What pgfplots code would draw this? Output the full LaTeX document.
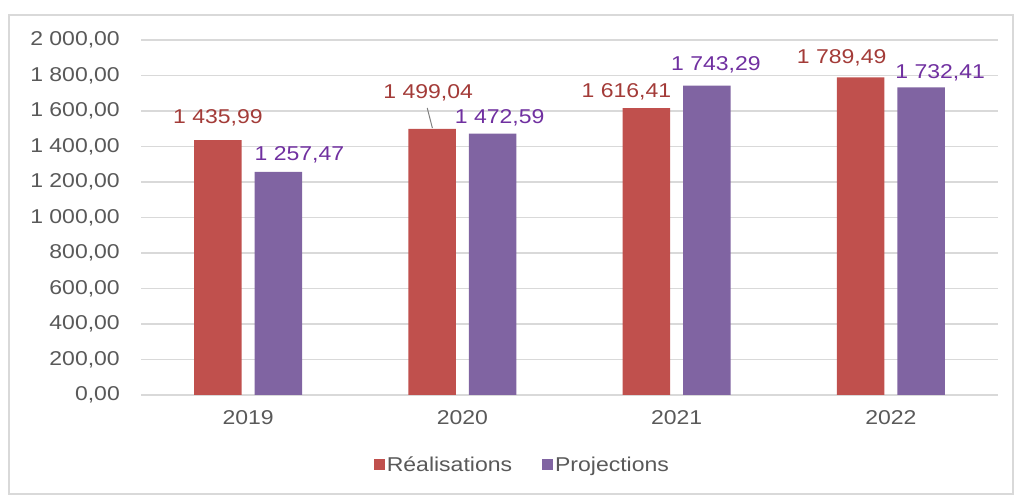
\documentclass[border=0pt]{standalone}
\usepackage{pgfplots}
\pgfplotsset{compat=1.18}
\usepackage{pgfplotstable}
\usepackage{fontspec}
\setmainfont{Liberation Sans}[FakeStretch=1.15]
\definecolor{barred}{HTML}{C0504D}
\definecolor{barpurple}{HTML}{8064A2}
\definecolor{labred}{HTML}{A33B38}
\definecolor{labpurple}{HTML}{7030A0}
\definecolor{ticktext}{HTML}{595959}
\definecolor{gridc}{HTML}{D9D9D9}
\definecolor{framec}{HTML}{D9D9D9}

\pgfplotstableread{
x y dx dy
0 1435.99 0 22
1 1499.04 -4 36
2 1616.41 -20 16
3 1789.49 -19 19.4
}\realis
\pgfplotstableread{
x y dx dy
0 1257.47 21 17
1 1472.59 7 15.6
2 1743.29 9 20.6
3 1732.41 19 14.5
}\proj

\pgfkeys{/pgf/number format/.cd, fixed, fixed zerofill, precision=2, use comma, 1000 sep={\ }, assume math mode=true}

\begin{document}
\begin{tikzpicture}[x=1pt,y=1pt]
\useasboundingbox (0,0) rectangle (1014,495);
\draw[framec, line width=1.5pt] (9,1) rectangle (1013,480);
\begin{axis}[
  at={(141pt,100pt)}, anchor=south west,
  scale only axis, width=857pt, height=355pt,
  xmin=-0.5, xmax=3.5, ymin=0, ymax=2000,
  ytick={0,200,...,2000},
  xtick={0,1,2,3}, xticklabels={2019,2020,2021,2022},
  scaled y ticks=false,
  ybar=13pt, bar width=47.5pt,
  axis x line*=bottom, axis y line*=left,
  x axis line style={draw=gridc, line width=1.3pt, -},
  y axis line style={draw=none},
  major tick length=0pt,
  ymajorgrids, grid style={draw=gridc, line width=1.3pt},
  tick label style={font=\fontsize{20}{24}\selectfont, text=ticktext},
  yticklabel style={anchor=east, inner sep=0pt, xshift=-21pt},
  xticklabel style={anchor=center, yshift=-23pt},
  legend style={at={(0.445,-0.197)}, anchor=center, draw=none, fill=none,
    legend columns=2, font=\fontsize{20}{24}\selectfont, text=ticktext,
    /tikz/every even column/.append style={column sep=28pt}},
  legend image code/.code={\fill[#1] (0pt,-5.5pt) rectangle (11pt,5.5pt);},
  clip=false,
]
\addplot[fill=barred, draw=none,
  visualization depends on={\thisrow{dx}\as\labdx},
  visualization depends on={\thisrow{dy}\as\labdy},
  nodes near coords,
  every node near coord/.append style={anchor=center, xshift=\labdx pt, yshift=\labdy pt,
    text=labred, font=\fontsize{20}{24}\selectfont}]
  table[x=x,y=y] {\realis};
\addplot[fill=barpurple, draw=none,
  visualization depends on={\thisrow{dx}\as\labdx},
  visualization depends on={\thisrow{dy}\as\labdy},
  nodes near coords,
  every node near coord/.append style={anchor=center, xshift=\labdx pt, yshift=\labdy pt,
    text=labpurple, font=\fontsize{20}{24}\selectfont}]
  table[x=x,y=y] {\proj};
\legend{Réalisations, Projections}
\draw[gray, line width=1pt] (axis cs:0.836,1617) -- (axis cs:0.860,1504);
\end{axis}
\end{tikzpicture}
\end{document}
